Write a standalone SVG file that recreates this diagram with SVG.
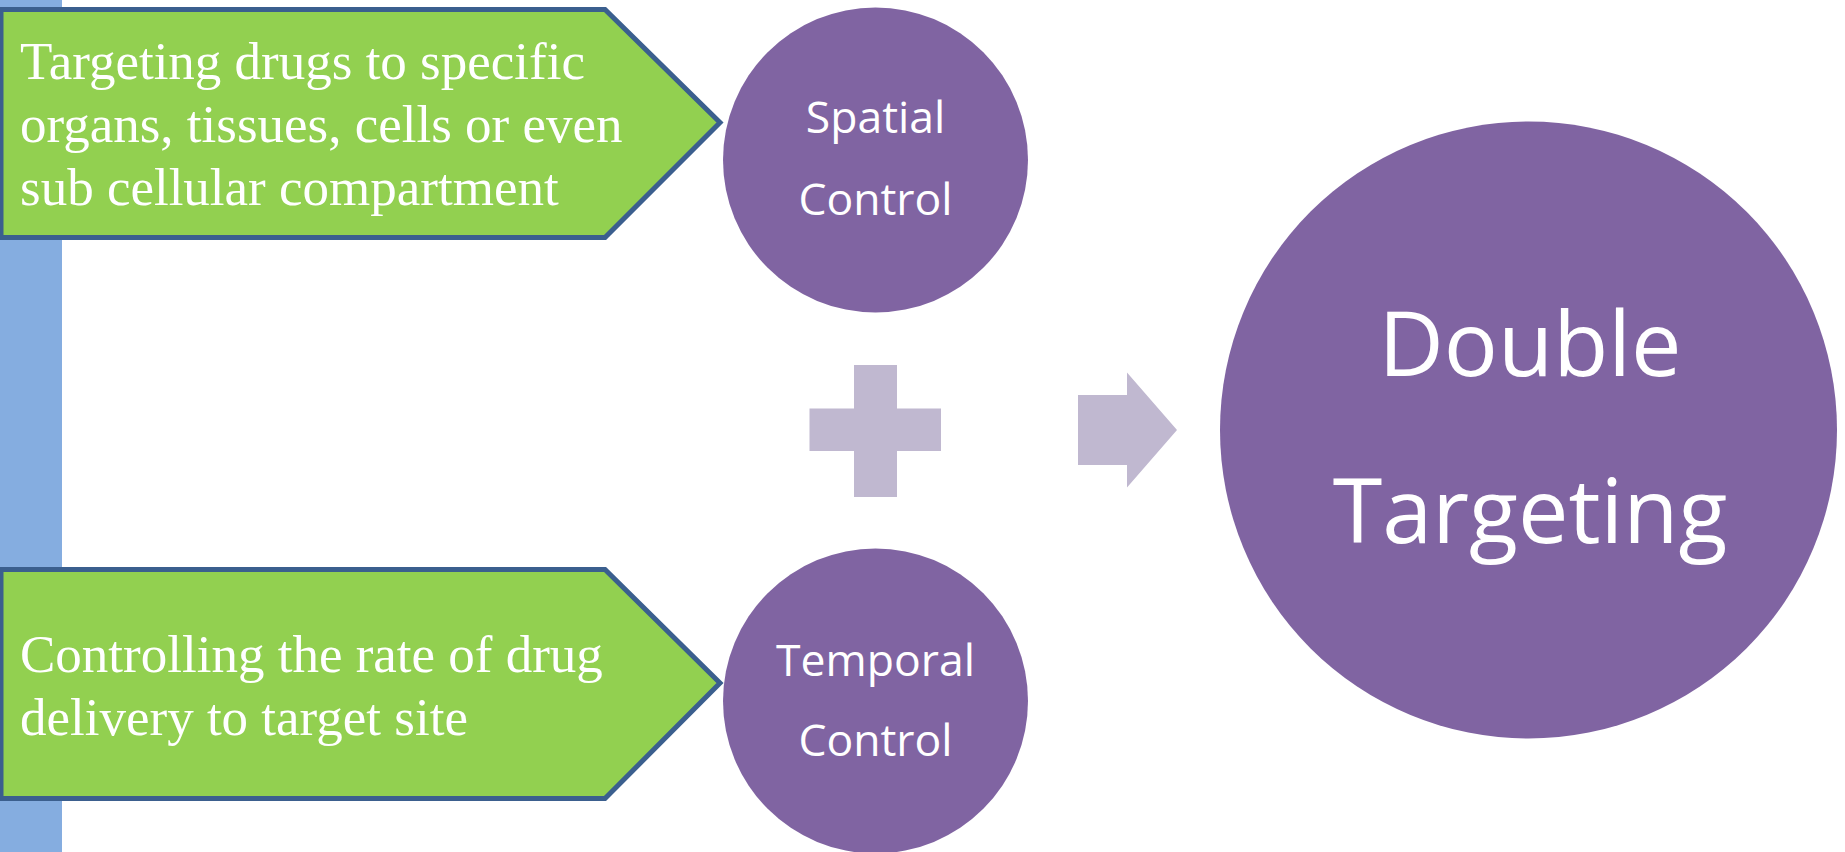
<svg xmlns="http://www.w3.org/2000/svg" width="1845" height="852" viewBox="0 0 1845 852">
<style>
.box{fill:#92D050;stroke:#3B5F8E;stroke-width:5;stroke-linejoin:miter}
.bt{font-family:"Liberation Serif","Times New Roman",serif;font-size:53px;fill:#FFFFFF}
.circ{fill:#8064A2}
.ct{font-family:"Open Sans",Lato,sans-serif;fill:#FFFFFF;text-anchor:middle;font-variant-ligatures:none}
.sym{fill:#C0B8D0}
</style>
<rect x="0" y="0" width="62" height="852" fill="#85ADE0"/>
<g id="spatial-desc">
<polygon class="box" points="1,9.5 605,9.5 720,122.5 605,237.5 1,237.5"/>
<text class="bt" x="20" y="79">Targeting drugs to specific</text>
<text class="bt" x="20" y="142">organs, tissues, cells or even</text>
<text class="bt" x="20" y="205">sub cellular compartment</text>
</g>
<g id="temporal-desc">
<polygon class="box" points="1,569.5 605,569.5 720,683 605,798.5 1,798.5"/>
<text class="bt" x="20" y="672">Controlling the rate of drug</text>
<text class="bt" x="20" y="735">delivery to target site</text>
</g>
<g id="spatial-control">
<circle class="circ" cx="875.5" cy="160" r="152.5"/>
<text class="ct" x="875.5" y="133" font-size="44.5">Spatial</text>
<text class="ct" x="875.5" y="215" font-size="44.5">Control</text>
</g>
<g id="temporal-control">
<circle class="circ" cx="875.5" cy="701" r="152.5"/>
<text class="ct" x="875.5" y="676" font-size="44.5">Temporal</text>
<text class="ct" x="875.5" y="756" font-size="44.5">Control</text>
</g>
<g id="plus">
<polygon class="sym" points="854,365 897,365 897,408.5 941,408.5 941,451 897,451 897,497 854,497 854,451 809.5,451 809.5,408.5 854,408.5"/>
</g>
<g id="double-targeting">
<circle class="circ" cx="1528.5" cy="430" r="308.5"/>
<text class="ct" x="1530" y="376" font-size="90">Double</text>
<text class="ct" x="1530" y="543" font-size="90">Targeting</text>
</g>
<g id="connectors">
<polygon class="sym" points="1078,395 1127,395 1127,372.5 1177,430 1127,487.5 1127,465 1078,465"/>
</g>
</svg>
